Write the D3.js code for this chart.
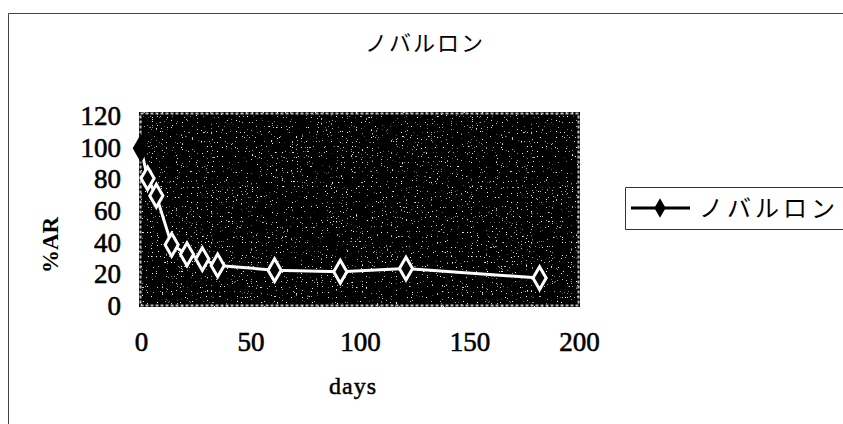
<!DOCTYPE html>
<html>
<head>
<meta charset="utf-8">
<script src="https://cdn.jsdelivr.net/npm/d3@7"></script>
<style>
  body { margin: 0; background: #fff; }
  svg { display: block; }
</style>
</head>
<body>
<svg id="chart" width="843" height="424"></svg>
<script>
(function() {

    var days = [0, 3, 7, 14, 21, 28, 35, 61, 91, 121, 182];
    var ar = [99, 80, 69, 38, 32, 29, 25, 22, 21, 23, 17];
    var xTicks = [0, 50, 100, 150, 200];
    var yTicks = [0, 20, 40, 60, 80, 100, 120];
    var seriesName = "ノバルロン";

    var svg = d3.select("#chart");
    var serif = "'Liberation Serif', 'DejaVu Serif', serif";
    var jp = "'Noto Sans CJK JP', sans-serif";

    // speckle texture for the scanned plot area
    var defs = svg.append("defs");
    var f = defs.append("filter").attr("id", "scan")
        .attr("x", 0).attr("y", 0).attr("width", 1).attr("height", 1);
    f.append("feTurbulence")
        .attr("type", "fractalNoise")
        .attr("baseFrequency", 0.8)
        .attr("numOctaves", 1)
        .attr("seed", 3)
        .attr("result", "noise");
    f.append("feColorMatrix")
        .attr("in", "noise")
        .attr("type", "matrix")
        .attr("values", "0 0 0 0 1  0 0 0 0 1  0 0 0 0 1  14 0 0 0 -9.6")
        .attr("result", "dots");
    f.append("feFlood").attr("flood-color", "#050505").attr("result", "bg");
    f.append("feMerge").call(function(m) {
        m.append("feMergeNode").attr("in", "bg");
        m.append("feMergeNode").attr("in", "dots");
    });

    // frame of the scanned chart
    svg.append("path")
        .attr("d", "M8.5,424 V13.5 H843")
        .attr("fill", "none")
        .attr("stroke", "#444")
        .attr("stroke-width", 1);

    svg.append("text")
        .attr("x", 425).attr("y", 51)
        .attr("text-anchor", "middle")
        .style("font-family", jp)
        .style("font-size", "22px")
        .style("letter-spacing", "2px")
        .text(seriesName);

    var x = d3.scaleLinear().domain([0, 200]).range([141, 579]);
    var y = d3.scaleLinear().domain([0, 120]).range([305, 115]);

    svg.append("rect")
        .attr("x", 139).attr("y", 112)
        .attr("width", 441).attr("height", 195)
        .attr("fill", "#050505")
        .attr("filter", "url(#scan)");
    svg.append("rect")
        .attr("x", 140.5).attr("y", 113.5)
        .attr("width", 438).attr("height", 192)
        .attr("fill", "none")
        .attr("stroke", "#bbb")
        .attr("stroke-width", 2)
        .attr("stroke-dasharray", "3,2");

    var yAxis = svg.append("g")
        .attr("transform", "translate(139,0)")
        .call(d3.axisLeft(y).tickValues(yTicks).tickSize(0).tickPadding(18));
    var xAxis = svg.append("g")
        .attr("transform", "translate(0,307)")
        .call(d3.axisBottom(x).tickValues(xTicks).tickSize(0).tickPadding(25));
    [xAxis, yAxis].forEach(function(a) {
        a.select(".domain").remove();
        a.selectAll("text")
            .style("font-family", serif)
            .style("font-size", "27px")
            .attr("fill", "#000")
            .attr("stroke", "#000")
            .attr("stroke-width", 0.6);
    });
    yAxis.selectAll("text").attr("dy", "0.35em");

    svg.append("text")
        .attr("transform", "translate(58,245) rotate(-90)")
        .attr("text-anchor", "middle")
        .style("font-family", serif)
        .style("font-size", "23px")
        .style("font-weight", "bold")
        .text("%AR");

    svg.append("text")
        .attr("x", 353).attr("y", 394)
        .attr("text-anchor", "middle")
        .style("font-family", serif)
        .style("font-size", "24px")
        .style("letter-spacing", "1px")
        .attr("stroke", "#000")
        .attr("stroke-width", 0.5)
        .text("days");

    var data = days.map(function(d, i) { return { d: d, v: ar[i] }; });

    var line = d3.line()
        .x(function(d) { return x(d.d); })
        .y(function(d) { return y(d.v); });

    svg.append("path")
        .datum(data)
        .attr("d", line)
        .attr("fill", "none")
        .attr("stroke", "#fff")
        .attr("stroke-width", 3);

    var diamond = d3.symbol().type(d3.symbolDiamond).size(150);

    svg.selectAll(".pt")
        .data(data)
        .enter().append("path")
        .attr("class", "pt")
        .attr("transform", function(d) { return "translate(" + x(d.d) + "," + y(d.v) + ")"; })
        .attr("d", diamond)
        .attr("fill", function(d, i) { return i === 0 ? "#000" : "#050505"; })
        .attr("stroke", function(d, i) { return i === 0 ? "#000" : "#fff"; })
        .attr("stroke-width", 3);

    // legend
    var lg = svg.append("g");
    lg.append("path")
        .attr("d", "M843,187.5 H625.5 V229.5 H843")
        .attr("fill", "none")
        .attr("stroke", "#333")
        .attr("stroke-width", 1);
    lg.append("line")
        .attr("x1", 631).attr("x2", 690)
        .attr("y1", 208).attr("y2", 208)
        .attr("stroke", "#000")
        .attr("stroke-width", 3);
    lg.append("path")
        .attr("transform", "translate(660,208)")
        .attr("d", d3.symbol().type(d3.symbolDiamond).size(110))
        .attr("fill", "#000");
    lg.append("text")
        .attr("x", 699).attr("y", 217)
        .style("font-family", jp)
        .style("font-size", "24px")
        .style("letter-spacing", "4px")
        .text(seriesName);

})();
</script>
</body>
</html>
